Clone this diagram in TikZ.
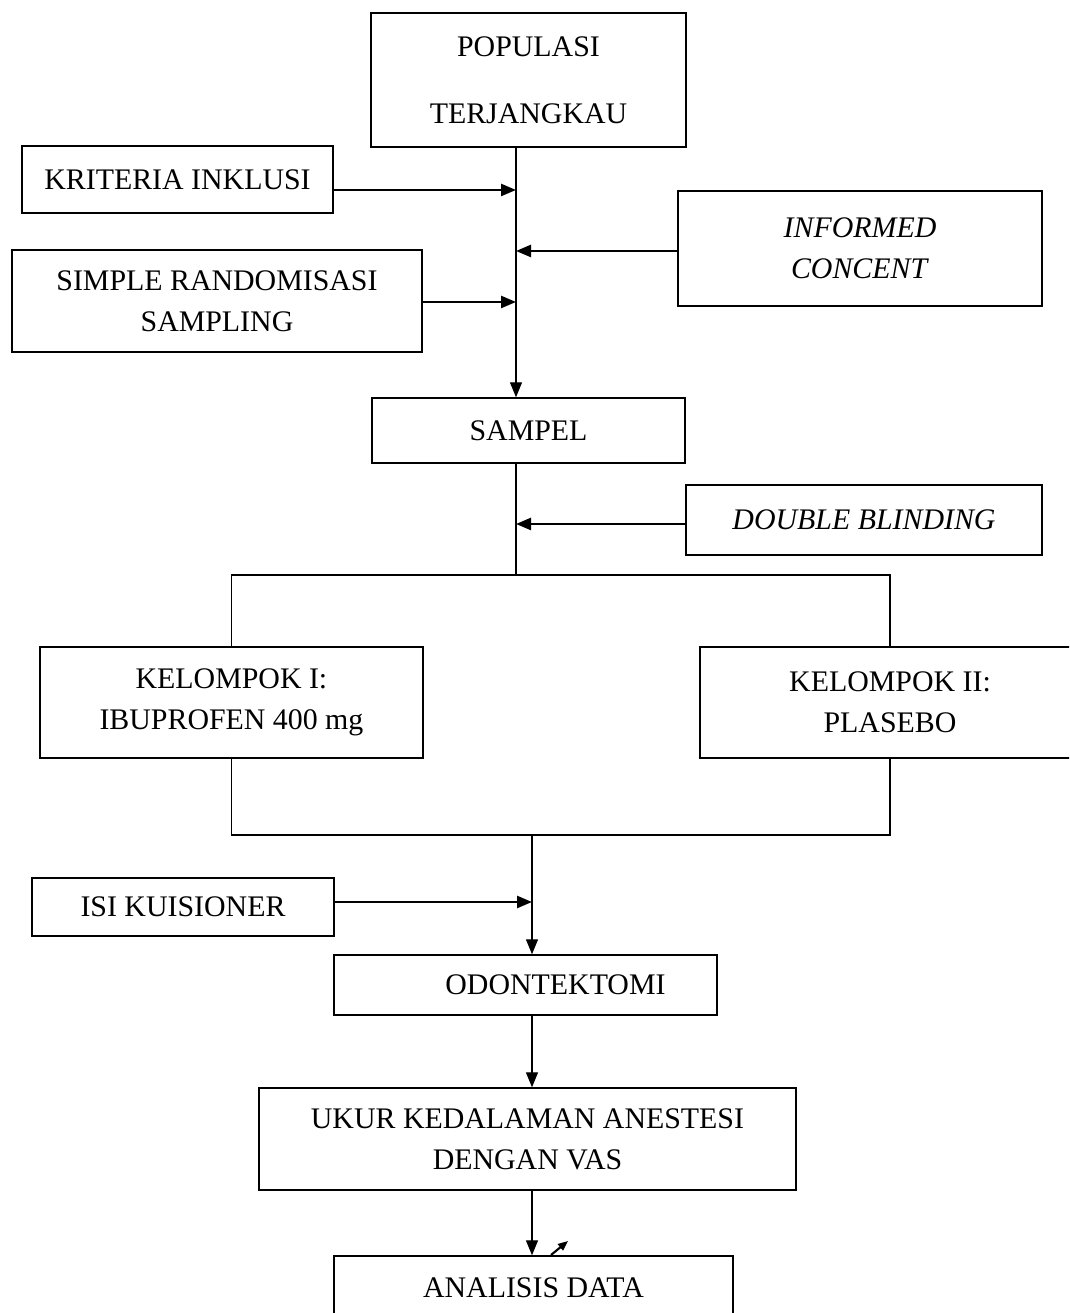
\documentclass[tikz,border=0pt]{standalone}
\usepackage{fontspec}
\setmainfont{Liberation Serif}
\usetikzlibrary{arrows.meta}
\begin{document}
\begin{tikzpicture}[
  font=\fontsize{17}{23.3}\selectfont,
  kotak/.style={draw, line width=0.8pt, align=center, inner sep=0pt},
  garis/.style={line width=0.7pt},
  panah/.style={-{Triangle[length=0.3cm,width=0.24cm]}, line width=0.7pt},
  panahtebal/.style={-{Triangle[length=0.3cm,width=0.24cm]}, line width=1.4pt}]
\useasboundingbox (0,0) rectangle (21.38,26.26);
\clip (0,0) rectangle (21.38,26.26);

\node[kotak, minimum width=6.3cm, minimum height=2.68cm] (populasi) at (10.57,24.66) {POPULASI\\[0.52cm]TERJANGKAU};
\node[kotak, minimum width=6.22cm, minimum height=1.34cm] (kriteria) at (3.55,22.67) {KRITERIA INKLUSI};
\node[kotak, minimum width=7.28cm, minimum height=2.3cm] (informed) at (17.2,21.29) {\textit{INFORMED}\\\textit{CONCENT}};
\node[kotak, minimum width=8.2cm, minimum height=2.04cm] (simple) at (4.34,20.24) {SIMPLE RANDOMISASI\\SAMPLING};
\node[kotak, minimum width=6.26cm, minimum height=1.3cm] (sampel) at (10.57,17.65) {SAMPEL};
\node[kotak, minimum width=7.12cm, minimum height=1.4cm] (blinding) at (17.28,15.86) {\textit{DOUBLE BLINDING}};
\node[kotak, minimum width=7.66cm, minimum height=2.22cm] (kel1) at (4.63,12.21) {KELOMPOK I:\\IBUPROFEN 400 mg};
\node[kotak, minimum width=7.6cm, minimum height=2.22cm] (kel2) at (17.8,12.21) {KELOMPOK II:\\PLASEBO};
\node[kotak, minimum width=6.04cm, minimum height=1.16cm] (isi) at (3.66,8.12) {ISI KUISIONER};
\node[kotak, minimum width=7.66cm, minimum height=1.2cm] (odon) at (10.51,6.56) {\hspace*{1.2cm}ODONTEKTOMI};
\node[kotak, minimum width=10.74cm, minimum height=2.04cm] (ukur) at (10.55,3.48) {UKUR KEDALAMAN ANESTESI\\DENGAN VAS};
\node[kotak, minimum width=7.98cm, minimum height=1.28cm] (analisis) at (10.67,0.5) {ANALISIS DATA};

\coordinate (m1) at (10.32,22.46);
\coordinate (m2) at (10.32,21.24);
\coordinate (m3) at (10.32,20.22);
\coordinate (m4) at (10.32,15.78);
\coordinate (cabang) at (10.32,14.76);
\coordinate (gabung) at (10.64,9.56);
\coordinate (m5) at (10.64,8.22);
\coordinate (s1) at (11.02,1.16);
\coordinate (s2) at (11.36,1.44);

\draw[panah] (populasi.south -| m1) -- (sampel.north -| m1);
\draw[panahtebal] (kriteria.east |- m1) -- (m1);
\draw[panahtebal] (informed.west |- m2) -- (m2);
\draw[panahtebal] (simple.east |- m3) -- (m3);
\draw[garis] (sampel.south -| cabang) -- (cabang);
\draw[panahtebal] (blinding.west |- m4) -- (m4);
\draw[garis] (kel1.north) |- (cabang) -- (kel2.north |- cabang) -- (kel2.north);
\draw[garis] (kel1.south) |- (gabung) -- (kel2.south |- gabung) -- (kel2.south);
\draw[panah] (gabung) -- (odon.north -| gabung);
\draw[panahtebal] (isi.east |- m5) -- (m5);
\draw[panah] (odon.south -| gabung) -- (ukur.north -| gabung);
\draw[panah] (ukur.south -| gabung) -- (analisis.north -| gabung);
\draw[line width=1.2pt, -{Triangle[length=0.2cm,width=0.16cm]}] (s1) -- (s2);
\end{tikzpicture}
\end{document}
